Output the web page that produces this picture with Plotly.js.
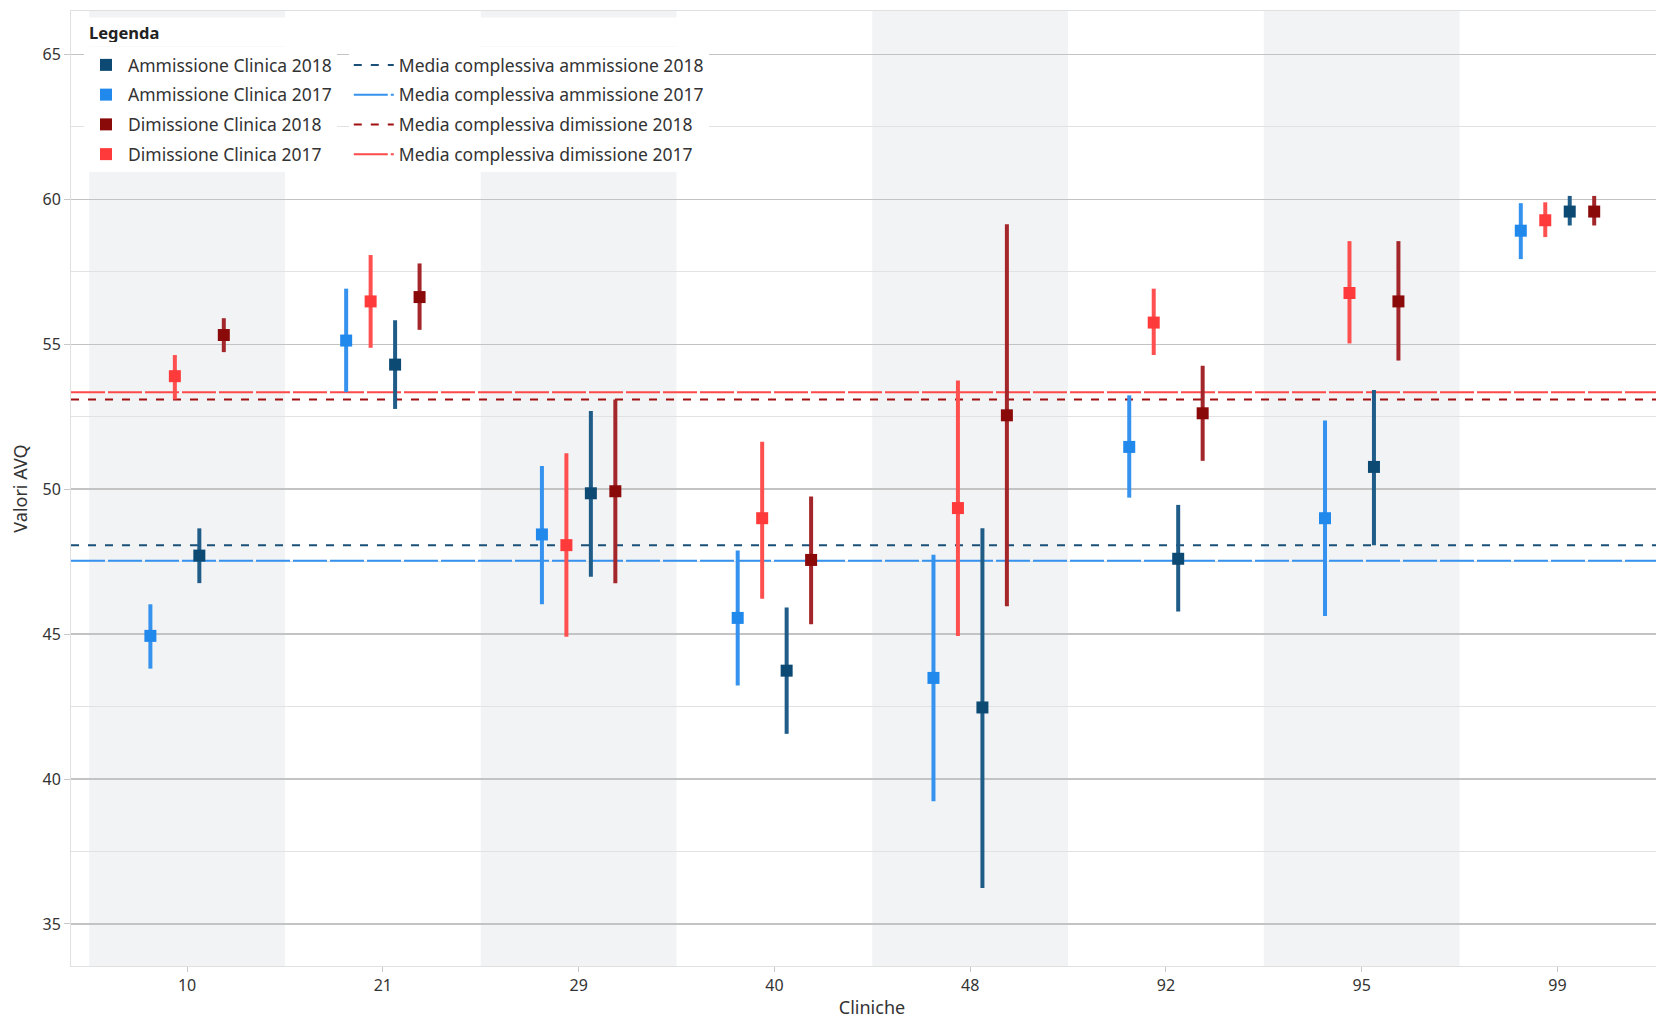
<!DOCTYPE html>
<html><head><meta charset="utf-8">
<script src="https://cdn.plot.ly/plotly-3.0.1.min.js"></script>
<style>html,body{margin:0;padding:0;background:#fff;overflow:hidden}#wrap{width:1656px;height:1021px;overflow:hidden}#chart{width:1673px;height:1021px}</style>
</head><body><div id="wrap"><div id="chart"></div></div>
<script>
// ---- data ----
const cliniche = ['10', '21', '29', '40', '48', '92', '95', '99'];

const amm2017    = [44.94, 55.13, 48.44, 45.56, 43.49, 51.46, 49.00, 58.92];
const amm2017Hi  = [46.03, 56.92, 50.80, 47.89, 47.74, 53.24, 52.37, 59.87];
const amm2017Lo  = [43.81, 53.35, 46.03, 43.23, 39.23, 49.71, 45.63, 57.94];

const dim2017    = [53.90, 56.48, 48.07, 49.00, 49.35, 55.75, 56.77, 59.28];
const dim2017Hi  = [54.63, 58.08, 51.24, 51.64, 53.75, 56.92, 58.56, 59.90];
const dim2017Lo  = [53.10, 54.88, 44.91, 46.22, 44.94, 54.63, 55.03, 58.70];

const amm2018    = [47.71, 54.30, 49.86, 43.74, 42.47, 47.60, 50.77, 59.58];
const amm2018Hi  = [48.65, 55.83, 52.70, 45.92, 48.65, 49.46, 53.42, 60.12];
const amm2018Lo  = [46.76, 52.77, 46.98, 41.56, 36.24, 45.78, 48.07, 59.10];

const dim2018    = [55.32, 56.63, 49.93, 47.56, 52.55, 52.62, 56.48, 59.58];
const dim2018Hi  = [55.90, 57.79, 53.10, 49.75, 59.14, 54.26, 58.56, 60.12];
const dim2018Lo  = [54.73, 55.50, 46.76, 45.34, 45.96, 50.98, 54.44, 59.10];

const mediaAmm2018 = 48.07;
const mediaAmm2017 = 47.53;
const mediaDim2018 = 53.10;
const mediaDim2017 = 53.35;

// ---- styling / build ----
const FONT = '"Noto Sans", "DejaVu Sans", sans-serif';
const xRange = [-0.593, 7.59];
const idx = cliniche.map((c, i) => i);

function pointTrace(name, vals, hi, lo, offset, mColor, eColor, rank) {
  return {
    type: 'scatter', mode: 'markers', name: name,
    x: idx.map(i => i + offset), y: vals,
    marker: {symbol: 'square', size: 12, color: mColor, line: {width: 0}},
    error_y: {type: 'data', symmetric: false,
      array: vals.map((v, i) => hi[i] - v),
      arrayminus: vals.map((v, i) => v - lo[i]),
      thickness: 4, width: 0, color: eColor},
    legend: 'legend', legendrank: rank, legendgroup: name,
    hoverinfo: 'x+y'
  };
}
function meanTrace(name, val, color, dash, rank) {
  return {
    type: 'scatter', mode: 'lines', name: name,
    x: xRange, y: [val, val],
    line: {color: color, width: 2, dash: dash},
    legend: 'legend2', legendrank: rank, legendgroup: name,
    hoverinfo: 'skip'
  };
}

const C = {
  amm18: '#0d4a73', amm18e: '#1f5d88',
  amm17: '#2188ec', amm17e: '#3592ee',
  dim18: '#8a0a0a', dim18e: '#a3262a',
  dim17: '#ff3a3a', dim17e: '#ff5050'
};

const data = [
  meanTrace('Media complessiva ammissione 2018', mediaAmm2018, '#1a5078', '8px,9px', 1),
  meanTrace('Media complessiva ammissione 2017', mediaAmm2017, '#3592ee', '34px,3px', 2),
  meanTrace('Media complessiva dimissione 2018', mediaDim2018, '#a01010', '8px,9px', 3),
  meanTrace('Media complessiva dimissione 2017', mediaDim2017, '#ff4a4a', '34px,3px', 4),
  pointTrace('Ammissione Clinica 2017', amm2017, amm2017Hi, amm2017Lo, -0.1875, C.amm17, C.amm17e, 2),
  pointTrace('Dimissione Clinica 2017', dim2017, dim2017Hi, dim2017Lo, -0.0625, C.dim17, C.dim17e, 4),
  pointTrace('Ammissione Clinica 2018', amm2018, amm2018Hi, amm2018Lo, 0.0625, C.amm18, C.amm18e, 1),
  pointTrace('Dimissione Clinica 2018', dim2018, dim2018Hi, dim2018Lo, 0.1875, C.dim18, C.dim18e, 3)
];

const shapes = idx.filter(i => i % 2 === 0).map(i => ({
  type: 'rect', xref: 'x', yref: 'paper', x0: i - 0.5, x1: i + 0.5, y0: 0, y1: 1,
  fillcolor: '#f2f3f5', line: {width: 0}, layer: 'below'
}));

const layout = {
  width: 1673, height: 1021,
  margin: {l: 71, r: 0, t: 11, b: 55},
  paper_bgcolor: '#ffffff', plot_bgcolor: '#ffffff',
  font: {family: FONT, size: 16, color: '#333333'},
  showlegend: true,
  shapes: shapes,
  annotations: [{
    text: '<b>Legenda</b>', xref: 'paper', yref: 'paper',
    x: 0.0081, y: 0.9775, xanchor: 'left', yanchor: 'middle',
    showarrow: false, align: 'left', valign: 'middle', width: 613, height: 20,
    bgcolor: '#ffffff', borderpad: 4,
    font: {size: 16.5, color: '#222'}
  }],
  xaxis: {
    range: xRange, tickmode: 'array', tickvals: idx, ticktext: cliniche,
    showgrid: false, zeroline: false,
    showline: true, linecolor: '#e0e0e0', linewidth: 1, mirror: true,
    ticks: 'outside', ticklen: 5, tickcolor: '#c8c8c8',
    tickfont: {size: 16, color: '#333'},
    title: {text: 'Cliniche', font: {size: 18, color: '#333'}, standoff: 6}
  },
  yaxis: {
    range: [33.55, 66.5], tick0: 35, dtick: 5,
    showgrid: true, gridcolor: '#c3c3c3', gridwidth: 1.6,
    minor: {dtick: 2.5, showgrid: true, gridcolor: '#e2e2e2', gridwidth: 1},
    zeroline: false,
    showline: true, linecolor: '#e0e0e0', linewidth: 1, mirror: true,
    ticks: 'outside', ticklen: 6, tickcolor: '#c8c8c8',
    tickfont: {size: 16, color: '#333'},
    title: {text: 'Valori AVQ', font: {size: 18, color: '#333'}, standoff: 10}
  },
  legend: {
    x: 0.0081, y: 0.9623, xanchor: 'left', yanchor: 'top',
    bgcolor: '#ffffff', borderwidth: 0, itemwidth: 34,
    font: {size: 17.5, color: '#333'},
    traceorder: 'grouped', tracegroupgap: 4
  },
  legend2: {
    x: 0.1734, y: 0.9623, xanchor: 'left', yanchor: 'top',
    bgcolor: '#ffffff', borderwidth: 0, itemwidth: 40,
    font: {size: 17.5, color: '#333'},
    traceorder: 'grouped', tracegroupgap: 4
  }
};

Plotly.newPlot('chart', data, layout, {displayModeBar: false, staticPlot: true});
</script>
</body></html>
